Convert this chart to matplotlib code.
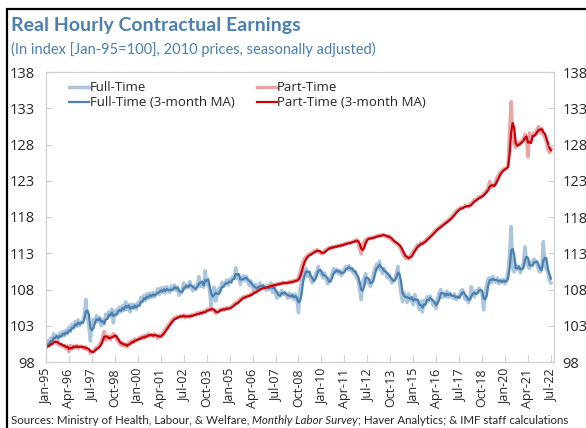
import numpy as np
import pandas as pd
import matplotlib
matplotlib.use("Agg")
import matplotlib.pyplot as plt
from matplotlib.patches import Rectangle

# monthly index, Jan-95 .. Jul-22 (Jan-95 = 100)
full_time = [
    100.0, 100.9, 100.4, 101.3, 100.8, 101.9, 101.2, 101.7, 101.1, 102.0, 101.5, 102.2,  # 1995
    101.6, 102.4, 101.9, 102.8, 102.2, 103.2, 102.7, 103.6, 102.9, 103.8, 103.0, 103.5,  # 1996
    103.6, 104.5, 106.6, 104.2, 103.0, 100.9, 103.2, 103.9, 103.3, 104.4, 103.6, 104.1,  # 1997
    103.0, 103.8, 103.2, 104.6, 104.0, 104.9, 104.3, 105.3, 103.4, 104.9, 105.2, 104.7,  # 1998
    105.6, 104.9, 105.8, 105.1, 106.3, 105.2, 105.9, 104.9, 106.0, 105.4, 105.9, 105.3,  # 1999
    106.2, 105.8, 106.9, 106.3, 107.2, 106.5, 107.4, 106.8, 107.5, 106.9, 107.6, 107.0,  # 2000
    107.5, 108.1, 107.3, 108.2, 107.6, 108.3, 107.5, 108.4, 107.8, 107.6, 108.5, 107.9,  # 2001
    108.6, 107.9, 108.3, 107.2, 107.6, 108.0, 108.9, 108.1, 108.6, 108.3, 109.1, 108.2,  # 2002
    107.8, 108.5, 108.0, 108.7, 109.8, 108.4, 109.0, 108.3, 110.6, 108.7, 109.0, 107.6,  # 2003
    105.6, 107.9, 108.3, 106.4, 107.5, 108.2, 107.8, 109.0, 108.4, 108.9, 109.3, 108.6,  # 2004
    109.4, 109.0, 109.8, 109.6, 111.0, 109.5, 109.9, 108.7, 109.6, 109.9, 109.2, 109.8,  # 2005
    109.1, 108.5, 109.2, 108.3, 107.8, 108.7, 107.9, 108.5, 108.9, 108.1, 108.6, 108.3,  # 2006
    107.9, 108.6, 108.0, 108.9, 107.6, 108.7, 107.4, 106.8, 107.5, 107.1, 107.9, 107.3,  # 2007
    107.6, 107.2, 106.8, 107.5, 106.9, 107.3, 106.6, 107.4, 106.5, 104.8, 107.9, 109.2,  # 2008
    110.0, 110.6, 110.9, 109.8, 110.5, 109.4, 108.9, 109.2, 110.1, 110.5, 111.2, 110.4,  # 2009
    110.0, 109.6, 110.3, 109.5, 108.8, 109.0, 109.6, 110.2, 110.9, 110.3, 110.8, 110.2,  # 2010
    110.6, 109.9, 110.4, 110.8, 111.2, 110.7, 111.3, 110.6, 110.9, 110.2, 110.5, 109.6,  # 2011
    109.3, 108.0, 106.6, 109.0, 109.7, 110.2, 108.9, 109.3, 108.4, 109.1, 110.2, 111.0,  # 2012
    111.5, 110.8, 111.9, 110.6, 110.2, 110.9, 110.3, 109.6, 110.1, 109.4, 108.9, 109.2,  # 2013
    109.6, 110.2, 111.2, 109.0, 107.4, 106.3, 107.6, 107.0, 106.2, 107.4, 106.5, 106.9,  # 2014
    105.9, 107.3, 106.5, 106.0, 105.2, 106.4, 104.9, 106.5, 106.2, 107.0, 106.4, 107.1,  # 2015
    106.5, 105.8, 106.3, 105.4, 106.8, 107.6, 108.0, 106.9, 107.5, 107.0, 107.8, 106.9,  # 2016
    107.5, 107.1, 106.8, 107.4, 106.6, 107.0, 106.9, 107.7, 108.0, 107.2, 106.6, 107.0,  # 2017
    106.2, 106.6, 108.4, 107.3, 107.0, 107.8, 107.6, 108.2, 107.9, 107.4, 105.2, 107.3,  # 2018
    108.8, 109.5, 109.6, 108.9, 109.8, 109.2, 109.0, 109.6, 108.8, 109.3, 109.0, 109.4,  # 2019
    108.8, 109.3, 110.5, 113.0, 116.7, 111.0, 110.4, 111.5, 110.8, 111.2, 110.3, 110.9,  # 2020
    111.6, 113.9, 112.0, 111.2, 110.9, 111.8, 111.3, 112.2, 111.9, 111.5, 110.6, 110.4,  # 2021
    111.0, 114.6, 111.5, 110.8, 110.4, 109.2, 108.9,                                      # 2022
]
part_time = [
    100.0, 100.4, 100.2, 100.7, 100.5, 101.0, 100.8, 100.5, 100.7, 100.3, 100.4, 100.1,  # 1995
    100.3, 99.8, 100.2, 99.4, 100.3, 99.9, 100.2, 100.0, 100.3, 99.9, 100.1, 100.2,      # 1996
    100.0, 99.8, 100.1, 99.7, 99.6, 99.2, 99.4, 99.5, 99.8, 100.0, 99.9, 100.4,          # 1997
    100.8, 101.4, 102.2, 101.0, 101.3, 101.6, 101.1, 101.5, 101.9, 101.6, 101.2, 100.9,  # 1998
    100.6, 100.3, 100.7, 100.2, 100.4, 100.1, 100.7, 100.6, 100.9, 100.7, 101.2, 101.0,  # 1999
    101.1, 101.4, 101.2, 101.6, 101.3, 101.7, 101.5, 101.9, 101.6, 101.8, 101.5, 101.9,  # 2000
    101.6, 101.3, 101.7, 101.5, 101.9, 102.2, 102.5, 102.8, 103.1, 103.4, 103.7, 103.9,  # 2001
    104.1, 104.0, 104.3, 104.2, 104.4, 104.2, 104.5, 104.1, 104.3, 104.4, 104.2, 104.5,  # 2002
    104.4, 104.6, 104.5, 104.8, 104.6, 104.9, 104.7, 105.0, 104.9, 105.2, 105.3, 105.1,  # 2003
    105.5, 105.2, 104.9, 104.7, 105.0, 105.1, 105.3, 105.1, 105.4, 105.2, 105.5, 105.3,  # 2004
    105.5, 105.6, 105.8, 106.0, 106.2, 106.1, 106.5, 106.7, 106.8, 107.0, 106.9, 107.1,  # 2005
    107.2, 107.1, 107.4, 107.5, 107.7, 107.6, 107.9, 108.0, 108.2, 108.1, 108.3, 108.2,  # 2006
    108.3, 108.5, 108.4, 108.6, 108.5, 108.7, 108.6, 108.8, 108.7, 108.9, 108.8, 109.0,  # 2007
    108.9, 108.8, 109.0, 109.1, 108.9, 109.2, 109.1, 109.3, 109.2, 109.6, 110.3, 111.2,  # 2008
    111.8, 112.3, 112.5, 112.7, 112.9, 112.8, 113.1, 113.3, 113.2, 113.5, 113.3, 113.1,  # 2009
    112.9, 113.1, 113.3, 113.5, 113.6, 113.8, 113.7, 113.9, 113.8, 114.0, 113.9, 114.1,  # 2010
    114.0, 114.2, 114.1, 114.3, 114.4, 114.3, 114.5, 114.4, 114.6, 114.7, 114.6, 114.9,  # 2011
    114.5, 113.6, 112.9, 113.8, 114.6, 114.9, 115.0, 115.1, 115.0, 115.2, 115.1, 115.3,  # 2012
    115.4, 115.3, 115.5, 115.4, 115.6, 115.5, 115.3, 115.2, 115.4, 115.0, 114.8, 114.6,  # 2013
    114.5, 114.3, 114.2, 113.9, 113.5, 113.0, 112.6, 112.3, 112.5, 112.2, 112.6, 112.9,  # 2014
    113.3, 113.6, 113.9, 114.2, 114.1, 114.5, 114.3, 114.6, 114.8, 115.0, 115.2, 115.4,  # 2015
    115.6, 115.8, 116.1, 116.3, 116.4, 116.6, 116.8, 116.9, 117.1, 117.3, 117.4, 117.6,  # 2016
    117.8, 118.0, 118.3, 118.5, 118.8, 119.0, 119.1, 119.3, 119.2, 119.4, 119.6, 119.5,  # 2017
    119.4, 119.7, 119.9, 120.1, 120.4, 120.3, 120.6, 120.8, 120.7, 121.0, 121.2, 121.4,  # 2018
    121.7, 122.0, 122.9, 122.1, 122.2, 122.5, 123.0, 123.5, 123.9, 124.2, 124.4, 124.6,  # 2019
    124.7, 124.8, 125.2, 130.0, 133.9, 129.0, 128.0, 127.6, 127.9, 128.3, 128.1, 128.5,  # 2020
    128.8, 129.4, 129.1, 126.3, 129.6, 128.7, 129.2, 129.6, 129.4, 130.1, 130.5, 129.6,  # 2021
    130.2, 129.3, 129.0, 128.4, 127.3, 126.9, 127.4,                                      # 2022
]
tick_labels = ["Jan-95", "Apr-96", "Jul-97", "Oct-98", "Jan-00", "Apr-01", "Jul-02",
               "Oct-03", "Jan-05", "Apr-06", "Jul-07", "Oct-08", "Jan-10", "Apr-11",
               "Jul-12", "Oct-13", "Jan-15", "Apr-16", "Jul-17", "Oct-18", "Jan-20",
               "Apr-21", "Jul-22"]
y_ticks = [98, 103, 108, 113, 118, 123, 128, 133, 138]

ft = pd.Series(full_time)
pt = pd.Series(part_time)
ft_ma = ft.rolling(3, min_periods=1).mean()
pt_ma = pt.rolling(3, min_periods=1).mean()
m = np.arange(len(ft))

plt.rcParams['font.family'] = ['Open Sans', 'DejaVu Sans']

blue = '#4a7fb0'
blue_l = '#aac5de'
red = '#c8000a'
red_l = '#eba3a3'
grey = '#d0d0d0'
txt = '#262626'

fig = plt.figure(figsize=(5.86, 4.28), dpi=100)
ax = fig.add_axes([46/586, 1-362/428, (554-46)/586, (362-72)/428])

l1, = ax.plot(m, ft, color=blue_l, lw=2.5, label='Full-Time')
l3, = ax.plot(m, pt, color=red_l, lw=2.5, label='Part-Time')
l2, = ax.plot(m, ft_ma, color=blue, lw=1.6, label='Full-Time (3-month MA)')
l4, = ax.plot(m, pt_ma, color=red, lw=1.6, label='Part-Time (3-month MA)')

ax.set_xlim(0, 332)
ax.set_ylim(98, 138)
ax.set_yticks(y_ticks)
ax.set_xticks(np.arange(0, len(ft), 15))
ax.set_xticklabels(tick_labels, rotation=90)
for s in ax.spines.values():
    s.set_color(grey)
    s.set_linewidth(0.9)
ax.tick_params(axis='y', direction='in', length=4, color=grey, labelsize=10.5,
               labelcolor=txt, pad=8)
ax.tick_params(axis='x', direction='in', length=5, color=grey, labelsize=9,
               labelcolor=txt, pad=5)

ax2 = ax.twinx()
ax2.set_ylim(98, 138)
ax2.set_yticks(y_ticks)
for s in ax2.spines.values():
    s.set_visible(False)
ax2.tick_params(axis='y', direction='in', length=4, color=grey, labelsize=10.5,
                labelcolor=txt, pad=6)

ax.legend(handles=[l1, l2, l3, l4], ncol=2, loc='upper left', frameon=False,
          fontsize=9.5, handlelength=1.5, handletextpad=0.05, columnspacing=1.7,
          labelspacing=0.15, bbox_to_anchor=(0.03, 0.995), borderaxespad=0.2,
          labelcolor=txt)

fig.text(11/586, 1-26/428, 'Real Hourly Contractual Earnings', fontsize=14,
         fontweight='bold', color='#4a7fb0', va='center', family=['Lato', 'DejaVu Sans'])
fig.text(11/586, 1-49/428, '(In index [Jan-95=100], 2010 prices, seasonally adjusted)',
         fontsize=10.5, color='#4a7fb0', va='center', family=['Lato', 'DejaVu Sans'])

# source line, italic survey name in the middle
parts = [('Sources: Ministry of Health, Labour, & Welfare, ', 'normal'),
         ('Monthly Labor Survey', 'italic'),
         ('; Haver Analytics; & IMF staff calculations', 'normal')]
r = fig.canvas.get_renderer()
x = 11
for s, st in parts:
    t = fig.text(x/586, 1-420/428, s, fontsize=8.3, style=st, color=txt, va='center',
                 family=['Lato', 'DejaVu Sans'])
    x = t.get_window_extent(r).x1

# frame around the whole chart (only left and top edges are visible)
fig.patches.append(Rectangle((7/586, -0.1), 1.2, 1.1 - 9/428, transform=fig.transFigure,
                             fill=False, edgecolor='black', lw=1.6, clip_on=False))

fig.savefig('out.png', dpi=100)
